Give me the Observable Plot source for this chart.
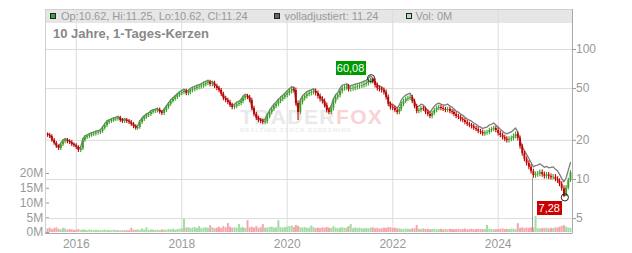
<!DOCTYPE html>
<html><head><meta charset="utf-8">
<script src="https://cdn.jsdelivr.net/npm/d3@7"></script>
<script src="https://cdn.jsdelivr.net/npm/@observablehq/plot@0.6"></script>
<style>
html,body{margin:0;padding:0;background:#fff;}
#wrap{position:relative;width:632px;height:253px;overflow:hidden;font-family:"Liberation Sans",Arial,Helvetica,sans-serif;}
#wrap>*{position:absolute;}
#wrap svg{left:0;top:0;}
.sq{width:4px;height:4px;border:1px solid #222;top:12.5px;}
.lg{top:8.5px;font-size:11px;line-height:14px;color:#999;white-space:nowrap;}
.ann{height:14px;line-height:14px;font-size:11px;color:#fff;text-align:center;}
</style></head><body>
<div id="wrap">
  <div style="left:45px;top:9px;width:527px;height:14px;background:#e6e6e6"></div>
  <div style="left:240px;top:106.7px;font-size:21px;line-height:20px;font-weight:bold;letter-spacing:1.4px;white-space:nowrap"><span style="color:#e9e9e9">TRADER</span><span style="color:#f9d3d3">FOX</span></div>
  <div style="left:240px;top:127.4px;font-size:6px;line-height:6px;font-weight:bold;letter-spacing:0.9px;color:#ececec;white-space:nowrap">REALTIME STOCK SCREENING</div>
</div>
<script>
// ---- data (semi-monthly candles) ----
const firstOpen = 22.0;
const closes = [
  21.8,21.4,20.0,18.9,17.9,17.3,18.5,19.5,20.0,19.5,19.2,18.5,18.2,
  17.6,16.7,17.3,20.0,21.0,21.4,21.8,22.2,22.4,22.8,23.0,23.4,24.7,26.0,27.4,27.9,28.4,28.9,29.2,29.7,28.4,27.9,28.4,27.9,
  27.4,26.5,25.5,24.7,25.1,27.4,28.9,30.0,31.0,31.6,32.8,33.3,33.6,34.2,32.8,32.2,33.9,35.8,37.8,39.8,41.3,42.7,44.3,45.9,
  46.6,47.5,45.9,46.6,48.3,49.2,50.1,51.0,51.5,52.3,53.8,54.7,55.7,53.8,54.7,51.9,50.1,48.3,45.1,42.0,40.5,39.1,37.1,35.8,
  36.4,37.8,38.4,39.8,42.0,43.5,42.7,40.5,35.2,31.6,29.5,28.4,27.9,27.4,27.9,30.5,32.8,34.6,36.4,37.8,39.8,41.3,42.7,44.3,
  45.9,47.5,49.2,48.3,38.4,32.8,39.1,42.0,43.5,45.1,45.9,46.6,47.5,45.9,43.5,41.3,39.8,37.1,33.9,32.8,35.2,39.8,42.7,44.3,
  47.5,50.1,50.6,51.4,49.2,49.8,50.4,51.0,51.6,52.2,52.9,53.8,54.7,56.7,58.9,56.7,52.9,50.1,49.2,48.3,46.6,42.7,37.8,35.8,
  35.2,33.9,32.8,34.6,37.8,39.8,41.3,42.0,42.7,39.8,36.4,33.3,33.9,35.2,34.6,32.8,31.6,30.5,32.2,33.9,35.2,35.8,35.2,34.6,
  33.9,34.6,33.3,32.8,31.6,30.5,30.0,28.9,28.4,27.4,26.5,26.0,25.5,24.7,24.2,23.4,23.0,22.4,22.8,23.0,23.8,24.2,24.7,23.8,
  22.6,21.8,21.0,20.4,20.0,20.4,20.7,21.4,22.2,20.7,17.9,15.8,14.3,13.3,12.4,11.5,10.7,10.9,11.0,11.3,10.9,10.6,10.8,10.5,
  10.3,10.4,10.0,9.7,9.2,8.5,7.4,8.6,9.8,11.24
];
const highs = [
  22.8,22.6,22.1,20.7,19.6,18.5,19.1,20.2,20.7,20.7,20.2,19.9,19.1,
  18.8,18.2,17.9,20.7,21.7,22.1,22.6,23.0,23.2,23.6,23.8,24.2,25.6,26.9,28.4,28.9,29.4,29.9,30.2,30.7,30.7,29.4,29.4,29.4,
  28.9,28.4,27.4,26.4,26.0,28.4,29.9,31.1,32.1,32.7,33.9,34.5,34.8,35.4,35.4,33.9,35.1,37.1,39.1,41.2,42.7,44.2,45.9,47.5,
  48.5,49.4,49.4,48.5,50.2,51.2,52.1,53.0,53.6,54.4,56.0,56.9,57.9,57.9,56.9,56.9,54.0,52.1,50.2,46.9,43.7,42.1,40.7,38.6,
  37.9,39.3,39.9,41.4,43.7,45.2,45.2,44.4,42.1,36.6,32.9,30.7,29.5,29.0,29.0,31.7,34.1,36.0,37.9,39.3,41.4,43.0,44.4,46.1,
  48.0,49.6,51.4,51.4,50.5,40.1,40.9,43.9,45.5,47.1,48.0,48.7,49.6,49.6,48.0,45.5,43.2,41.6,38.8,35.4,36.8,41.6,44.6,46.3,
  49.6,52.4,52.9,53.7,53.7,52.0,52.7,53.3,53.9,54.5,55.3,56.2,57.2,59.3,60.08,59.8,59.3,55.3,52.4,51.4,50.5,48.7,44.6,39.5,
  37.2,36.6,35.3,36.0,39.3,41.4,43.0,43.7,44.4,44.4,41.4,37.9,35.3,36.6,36.6,36.0,34.1,32.9,33.5,35.3,36.6,37.2,37.2,36.6,
  36.0,36.0,36.0,34.6,34.1,32.9,31.7,31.2,30.1,29.5,28.5,27.6,27.0,26.5,25.7,25.2,24.3,23.9,23.7,23.9,24.8,25.2,25.7,25.7,
  24.9,23.6,22.8,21.9,21.3,21.3,21.6,22.4,23.2,23.2,21.6,18.7,16.5,14.9,13.9,13.0,12.0,11.4,11.5,11.8,11.8,11.4,11.3,11.3,
  11.0,10.9,10.9,10.5,10.1,9.6,8.9,9.0,10.2,11.7
];
const lows = [
  21.1,20.7,19.3,18.3,17.3,16.7,16.7,17.9,18.8,18.8,18.6,17.9,17.6,
  17.0,16.1,16.1,16.7,19.3,20.3,20.7,21.1,21.4,21.6,22.0,22.2,22.6,23.9,25.1,26.5,27.0,27.4,27.9,28.2,27.4,27.0,27.0,27.0,
  26.5,25.6,24.6,23.9,23.9,24.3,26.5,27.9,29.0,30.0,30.5,31.7,32.2,32.5,31.7,31.1,31.1,32.8,34.6,36.5,38.5,39.9,41.3,42.8,
  44.1,44.8,44.1,44.1,44.8,46.4,47.3,48.2,49.0,49.5,50.3,51.7,52.6,51.7,51.7,49.9,48.2,46.4,43.4,40.4,38.9,37.6,35.7,34.4,
  34.4,35.0,36.3,36.9,38.3,40.4,41.1,38.9,33.8,30.4,28.4,27.3,26.8,26.3,26.3,26.8,29.3,31.5,33.3,35.0,36.3,38.3,39.7,41.1,
  42.4,43.9,45.5,46.2,36.7,28.4,31.4,37.4,40.2,41.6,43.2,43.9,44.6,43.9,41.6,39.5,38.1,35.5,32.4,31.4,31.4,33.7,38.1,40.9,
  42.4,45.5,47.9,48.4,47.1,47.1,47.7,48.2,48.8,49.4,50.0,50.6,51.5,52.3,54.3,54.3,50.6,47.9,47.1,46.2,44.6,40.9,36.2,34.3,
  33.8,32.6,31.5,31.5,33.3,36.3,38.3,39.7,40.4,38.3,35.0,32.0,32.0,32.6,33.3,31.5,30.4,29.3,29.3,31.0,32.6,33.8,33.8,33.3,
  32.6,32.6,32.0,31.5,30.4,29.3,28.8,27.8,27.3,26.3,25.5,25.0,24.5,23.8,23.3,22.5,22.1,21.5,21.5,21.9,22.1,22.9,23.3,22.9,
  21.6,20.9,20.1,19.5,19.1,19.1,19.5,19.8,20.5,19.8,17.1,15.1,13.7,12.7,11.9,11.0,10.2,10.2,10.4,10.5,10.4,10.1,10.1,10.0,
  9.9,9.9,9.6,9.3,8.8,8.1,7.28,7.5,8.3,9.5
];
const adjusted = [
  22.5,22.0,20.6,19.5,18.4,17.8,19.1,20.1,20.6,20.1,19.8,19.1,18.7,
  18.1,17.2,17.8,20.6,21.6,22.0,22.5,22.9,23.1,23.5,23.7,24.1,25.4,26.8,28.2,28.7,29.3,29.8,30.1,30.6,29.3,28.7,29.3,28.7,
  28.2,27.3,26.3,25.4,25.9,28.2,29.8,30.9,31.9,32.5,33.8,34.3,34.6,35.2,33.8,33.2,34.9,36.9,38.9,41.0,42.5,44.0,45.6,47.3,
  48.5,49.4,47.7,48.5,50.2,51.2,52.1,53.0,53.6,54.4,56.0,56.9,57.9,56.0,56.9,54.0,52.1,50.2,46.9,43.7,42.1,40.7,38.6,37.2,
  37.9,39.3,39.9,41.4,43.7,45.2,44.4,42.1,36.6,32.9,30.7,29.5,29.0,28.5,29.0,31.7,34.1,36.0,37.9,39.3,41.4,43.0,44.4,46.1,
  48.2,49.9,51.7,50.7,40.3,34.4,41.1,44.1,45.7,47.4,48.2,48.9,49.9,48.2,45.7,43.4,41.8,39.0,35.6,34.4,37.0,41.8,44.8,46.5,
  50.4,53.1,53.6,54.5,52.2,52.8,53.4,54.1,54.7,55.3,56.1,57.0,58.0,60.1,62.4,60.1,56.1,53.1,52.2,51.2,49.4,45.3,40.1,37.9,
  38.0,36.6,35.4,37.4,40.8,43.0,44.6,45.4,46.1,43.0,39.3,36.0,36.6,38.0,37.4,35.4,34.1,32.9,34.8,36.6,38.0,38.7,38.0,37.4,
  37.3,38.1,36.6,36.1,34.8,33.6,33.0,31.8,31.2,30.1,29.2,28.6,28.1,27.2,26.6,25.7,25.3,24.6,25.1,25.3,26.2,26.6,27.2,26.2,
  25.3,24.4,23.5,22.8,22.4,22.8,23.2,24.0,24.9,23.2,20.0,17.7,16.7,15.6,14.5,13.5,12.5,12.8,12.9,13.2,12.8,12.4,12.6,12.3,
  12.4,12.5,12.0,11.6,11.0,10.2,9.6,10.3,11.8,13.5
];
const volumesM = [
  1.2,1.5,1.0,1.3,1.6,1.1,0.9,1.4,1.2,0.8,1.0,0.9,0.7,
  0.8,1.0,0.7,0.9,0.8,0.6,0.9,0.7,0.6,0.8,0.7,0.6,0.7,0.8,0.6,0.7,0.6,0.8,0.6,0.7,0.5,0.6,0.7,0.6,
  0.6,1.4,0.8,0.7,0.9,0.7,1.2,0.8,1.6,0.7,0.9,0.8,0.7,0.8,0.6,0.9,0.8,0.7,1.0,0.9,1.1,0.8,1.0,1.1,
  1.3,4.7,1.5,1.6,1.3,1.5,1.7,1.4,2.0,1.3,1.5,1.6,1.4,2.3,1.6,1.3,1.5,1.8,1.4,2.0,1.6,3.0,1.8,1.5,
  1.6,1.5,2.7,1.5,1.7,1.4,4.0,1.6,1.8,1.5,2.0,1.4,1.6,2.7,1.5,1.5,1.7,1.8,1.5,1.6,4.0,1.6,1.5,1.7,
  1.8,2.0,2.2,1.7,2.4,2.1,1.6,1.5,1.7,1.4,1.5,2.2,1.6,1.4,1.5,1.3,1.6,1.4,1.7,1.5,1.4,2.0,1.5,1.3,
  1.5,1.6,1.4,1.5,2.0,2.7,1.3,1.6,1.4,1.5,1.3,1.2,1.4,1.3,1.5,1.6,1.3,1.4,1.2,1.3,1.5,1.4,1.7,1.6,
  1.4,1.5,1.3,1.2,1.1,1.0,1.2,1.1,1.0,1.3,1.2,2.4,1.1,1.0,1.2,1.0,1.1,0.9,1.0,1.1,0.9,1.0,1.1,0.9,
  1.0,0.9,1.1,1.0,0.9,1.0,1.1,0.9,1.0,1.2,0.9,1.0,1.1,0.9,1.0,1.1,1.0,1.0,1.0,2.4,1.1,1.0,0.9,1.0,
  1.0,1.1,1.2,1.0,1.1,1.0,1.2,1.1,1.0,3.0,1.4,1.6,1.3,1.5,1.4,1.6,1.5,5.4,1.3,1.2,1.4,1.3,1.5,1.2,
  1.4,1.3,1.6,1.5,1.8,2.1,2.3,1.8,1.5,1.4
];
const extremes = [
  {date: "2021-08-04", value: 60.08, label: "60,08", fill: "#009900"},
  {date: "2025-04-07", value: 7.28, label: "7,28", fill: "#cc0000"}
];
const glitch = [{date: "2024-08-26", top: 10.2, bottom: 3.9}];
const priceTicks = [5, 10, 20, 50, 100];
const volTicks = [0, 5, 10, 15, 20];
const yearTicks = ["2016", "2018", "2020", "2022", "2024"];
const xDomain = ["2015-06-02", "2025-05-30"];
const yDomain = [3.84, 203];
const volDomain = [0, 75.6];
const legend = {ohlc: "Op:10.62, Hi:11.25, Lo:10.62, Cl:11.24", adj: "volladjustiert: 11.24", vol: "Vol: 0M"};
const title = "10 Jahre, 1-Tages-Kerzen";

// ---- build ----
const parse = d3.utcParse("%Y-%m-%d");
const pYear = d3.utcParse("%Y");
const dates = [new Date(Date.UTC(2015, 5, 16))];
for (const m of d3.utcMonth.range(new Date(Date.UTC(2015, 6, 1)), new Date(Date.UTC(2025, 5, 1)))) {
  dates.push(m, d3.utcDay.offset(m, 15));
}
console.log(dates.length, closes.length, highs.length, lows.length, adjusted.length, volumesM.length);
const rows = dates.map((date, i) => ({
  date, open: i ? closes[i - 1] : firstOpen, close: closes[i], high: highs[i], low: lows[i], adj: adjusted[i], vol: volumesM[i]
}));
rows.forEach(r => r.up = r.close >= r.open);
const ext = extremes.map(d => ({...d, date: parse(d.date)}));
const gl = glitch.map(d => ({...d, date: parse(d.date)}));
const years = yearTicks.map(pYear);
const xd = xDomain.map(parse);
const W = 632, H = 253;
const font = '"Liberation Sans", Arial, sans-serif';
const candleColor = d => d.up ? "#3ca02a" : "#c40000";

const volPlot = Plot.plot({
  width: W, height: H, marginLeft: 45, marginRight: 60, marginTop: 9, marginBottom: 21,
  x: {type: "utc", domain: xd, axis: null},
  y: {domain: volDomain, axis: null},
  style: {background: "transparent", color: "#999", fontFamily: font, overflow: "visible"},
  marks: [
    Plot.gridX(years, {stroke: "#dcdcdc", strokeOpacity: 1}),
    Plot.ruleX(rows, {x: "date", y: "vol", stroke: d => d.up ? "#a4dca4" : "#f4a6ae", strokeWidth: 2}),
    Plot.axisY({anchor: "left", ticks: volTicks, tickFormat: d => d + "M", tickSize: 0, tickPadding: 2.3, fontSize: 12, label: null}),
    Plot.axisY({anchor: "left", ticks: volTicks, tickFormat: () => "", tickSize: -4, tickPadding: 0, stroke: "#999", label: null}),
    Plot.axisX({anchor: "bottom", ticks: years, tickFormat: "%Y", tickSize: 0, tickPadding: 7, fontSize: 12, label: null})
  ]
});

const pricePlot = Plot.plot({
  width: W, height: H, marginLeft: 45, marginRight: 60, marginTop: 9, marginBottom: 20,
  x: {type: "utc", domain: xd, axis: null},
  y: {type: "log", domain: yDomain, axis: null},
  style: {background: "transparent", color: "#999", fontFamily: font, overflow: "visible"},
  marks: [
    Plot.gridY(priceTicks, {stroke: "#dcdcdc", strokeOpacity: 1}),
    Plot.frame({stroke: "#d0d0d0"}),
    Plot.ruleX([xd[1]], {stroke: "#aaa"}),
    Plot.ruleY([yDomain[0]], {stroke: "#aaa"}),
    Plot.ruleX(gl, {x: "date", y1: "top", y2: "bottom", stroke: "#999", strokeWidth: 1}),
    Plot.line(rows, {x: "date", y: "adj", stroke: "#7d7d7d", strokeWidth: 1.3}),
    Plot.ruleX(rows, {x: "date", y1: "low", y2: "high", stroke: candleColor, strokeWidth: 1.1}),
    Plot.ruleX(rows, {x: "date", y1: "open", y2: "close", stroke: candleColor, strokeWidth: 1.9}),
    Plot.dot(ext, {x: "date", y: "value", r: 3.6, stroke: "#222", fill: "none", strokeWidth: 1}),
    Plot.axisY({anchor: "right", ticks: priceTicks, tickFormat: d => String(d), tickSize: 3, tickPadding: 0.5, fontSize: 12, label: null})
  ]
});

const wrap = document.getElementById("wrap");
wrap.appendChild(volPlot);
wrap.appendChild(pricePlot);

function addDiv(cls, style, text) {
  const el = document.createElement("div");
  if (cls) el.className = cls;
  Object.assign(el.style, style);
  if (text != null) el.textContent = text;
  wrap.appendChild(el);
  return el;
}
// legend
addDiv("sq", {left: "50px", background: "#3aaa35"});
addDiv("lg", {left: "61px"}, legend.ohlc);
addDiv("sq", {left: "274px", background: "#666"});
addDiv("lg", {left: "284.5px"}, legend.adj);
addDiv("sq", {left: "405.5px", background: "#b2e2b2"});
addDiv("lg", {left: "415.5px"}, legend.vol);
// title
addDiv(null, {left: "53px", top: "26.7px", fontSize: "13px", lineHeight: "13px", fontWeight: "bold", color: "#888", whiteSpace: "nowrap"}, title);
// annotation labels positioned through the plot's scales
const sx = pricePlot.scale("x"), sy = pricePlot.scale("y");
ext.forEach((d, i) => {
  const cx = sx.apply(d.date), cy = sy.apply(d.value);
  if (i === 0) addDiv("ann", {left: (cx - 35) + "px", top: (cy - 16.7) + "px", width: "30px", background: d.fill}, d.label);
  else addDiv("ann", {left: (cx - 27.6) + "px", top: (cy + 4.6) + "px", width: "25px", background: d.fill}, d.label);
});
</script>
</body></html>
